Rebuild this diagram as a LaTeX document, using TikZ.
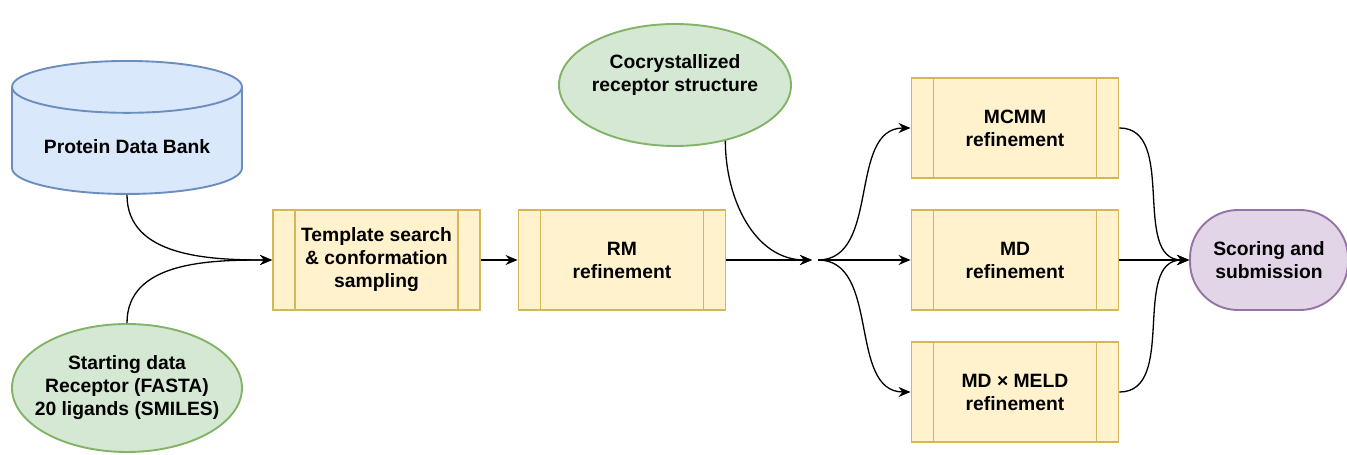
\documentclass[tikz,border=0pt]{standalone}
\usepackage{fontspec}
\setmainfont{Liberation Sans}
\usetikzlibrary{arrows.meta,
    positioning,
    shapes.geometric}

\definecolor{pdbfill}{HTML}{DAE8FC}
\definecolor{pdbline}{HTML}{6C8EBF}
\definecolor{srcfill}{HTML}{D5E8D4}
\definecolor{srcline}{HTML}{82B366}
\definecolor{boxfill}{HTML}{FFF2CC}
\definecolor{boxline}{HTML}{D6B656}
\definecolor{endfill}{HTML}{E1D5E7}
\definecolor{endline}{HTML}{9673A6}

\tikzset{
    base/.style={font=\bfseries\fontsize{19.3}{23}\selectfont, align=center, line width=1.9pt},
    database/.style={base, cylinder, shape border rotate=90, aspect=0.3,
        draw=pdbline, fill=pdbfill, minimum width=230pt, minimum height=133pt,
        execute at begin node={\rule{0pt}{20pt}}},
    source/.style={base, ellipse, draw=srcline, fill=srcfill, inner xsep=-12pt},
    refine/.style={base, rectangle, draw=boxline, fill=boxfill, inner sep=0pt,
        minimum width=207pt, minimum height=100pt,
        path picture={
            \draw[boxline, line width=1.9pt]
                ([xshift=22pt]path picture bounding box.north west) -- ([xshift=22pt]path picture bounding box.south west)
                ([xshift=-22pt]path picture bounding box.north east) -- ([xshift=-22pt]path picture bounding box.south east);
        }},
    finish/.style={base, rectangle, rounded corners=48pt, draw=endline, fill=endfill,
        minimum width=158pt, minimum height=100pt},
    link/.style={line width=1.3pt, -{Stealth[length=12pt,width=10pt,inset=4pt]}}
}

\begin{document}
\begin{tikzpicture}[x=1pt,y=1pt]
                  \useasboundingbox (0,0) rectangle (1347,455);
                  % inputs
                  \node[database] (pdb) at (127,311) {Protein Data Bank};
                  \node[source, minimum width=230pt, minimum height=128pt] (start) at (127,67)
                      {Starting data\\Receptor (FASTA)\\20 ligands (SMILES)};
                  \node[source, minimum width=232pt, minimum height=122pt, inner xsep=-6pt] (cocry) at (675,370)
                      {Cocrystallized\\receptor structure\\[-6pt]\strut};
                  % pipeline
                  \node[refine] (tmpl) at (376.5,195) {Template search\\\& conformation\\sampling};
                  \node[refine] (rm) at (622,195) {RM\\refinement};
                  \coordinate (jin) at (812,195);
                  \coordinate (jout) at (818,195);
                  \node[refine] (mcmm) at (1015,327) {MCMM\\refinement};
                  \node[refine] (md) at (1015,195) {MD\\refinement};
                  \node[refine] (meld) at (1015,63) {MD × MELD\\refinement};
                  \node[finish] (score) at (1269,195) {Scoring and\\submission};
                  % connectors
                  \draw[link] (pdb.south) to[out=-90,in=180] (tmpl.west);
                  \draw[link] (start.north) to[out=90,in=180] (tmpl.west);
                  \draw[link] (tmpl) -- (rm);
                  \draw[link] (rm) -- (jin);
                  \draw[link] (cocry.-48) to[out=-90,in=180] (jin);
                  \foreach \b in {mcmm,md,meld} {
                      \draw[link] (jout) to[out=0,in=180] (\b.west);
                      \draw[link] (\b.east) to[out=0,in=180] (score.west);
                  }
              \end{tikzpicture}
\end{document}
